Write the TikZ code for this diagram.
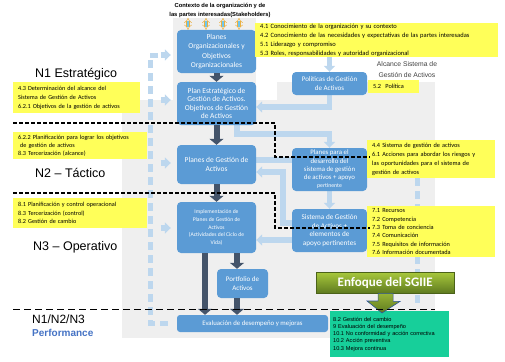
\documentclass[tikz,border=0pt]{standalone}
\usepackage{fontspec}
\setmainfont{Carlito}
\newfontfamily\arialf[Ligatures=TeX]{Liberation Sans}
\usetikzlibrary{arrows.meta}
\newcommand{\myfs}[2]{\fontsize{#1}{#2}\selectfont}
\definecolor{boxblue}{HTML}{5B9BD5}
\definecolor{lbcol}{HTML}{BDD7EE}
\definecolor{darrcol}{HTML}{44546A}
\definecolor{yel}{HTML}{FFFF59}
\definecolor{bggray}{HTML}{EFEFEF}
\definecolor{greenbox}{HTML}{17CF9A}
\definecolor{perfblue}{HTML}{4472C4}
\definecolor{olivetop}{HTML}{A8C83C}
\definecolor{olivebot}{HTML}{5E7A1F}
\definecolor{olivearr}{HTML}{7A9A24}
\definecolor{arrowblue}{HTML}{2F5597}
\definecolor{ctxorange}{HTML}{EBB040}
\definecolor{ctxblue}{HTML}{6DC6EF}
\pgfdeclarelayer{bg}
\pgfdeclarelayer{conn}
\pgfsetlayers{bg,conn,main}
\tikzset{
  bluebox/.style={fill=boxblue, rounded corners=4pt, text=white, align=center, inner sep=1pt, font=\myfs{7.5}{9.5}},
  ybox/.style={fill=yel, anchor=north west, inner xsep=5pt, inner ysep=0pt, align=left, font=\myfs{6.5}{9}},
  darr/.style={draw=darrcol, line width=6pt, -{Triangle[width=14pt,length=6pt]}},
  lbarr/.style={draw=lbcol, line width=5.5pt, -{Triangle[width=11pt,length=6pt]}},
  lbline/.style={draw=lbcol, line width=5.5pt},
  lbdash/.style={draw=lbcol, line width=5pt, dash pattern=on 8pt off 5pt},
  bkdash/.style={draw=black, line width=1.3pt, dash pattern=on 4pt off 2pt},
  bkdash2/.style={draw=black, line width=1pt, dash pattern=on 7pt off 4pt},
  ctxarr/.style={draw=ctxorange, double=ctxblue, double distance=2.2pt, line width=0.5pt, {Implies}-{Implies}},
  lvl/.style={anchor=west, inner sep=0pt, font=\arialf\myfs{12.5}{14}},
}
\begin{document}
\begin{tikzpicture}[x=1pt,y=-1pt]
\useasboundingbox (0,0) rectangle (505,361);
\begin{pgfonlayer}{bg}
\fill[bggray] (122,100) rectangle (435,338);
\fill[bggray] (173,18) rectangle (256,100);
\fill[bggray] (277,82) rectangle (435,100);
\end{pgfonlayer}

% blue boxes
\node[bluebox, minimum width=79pt, minimum height=43pt] (po) at (216.5,51.5) {Planes\\Organizacionales y\\Objetivos\\Organizacionales};
\node[bluebox, minimum width=79pt, minimum height=43pt, font=\myfs{7.5}{8.6}] (pe) at (216.5,103.5) {Plan Estratégico de\\Gestión de Activos.\\Objetivos de Gestión\\de Activos};
\node[bluebox, minimum width=79pt, minimum height=39pt] (pg) at (216.5,164.5) {Planes de Gestión de\\Activos};
\node[bluebox, minimum width=79pt, minimum height=51pt, font=\myfs{5.6}{7.6}] (im) at (216.5,227.5) {Implementación de\\Planes de Gestión de\\Activos\\(Actividades del Ciclo de\\Vida)};
\node[bluebox, minimum width=51pt, minimum height=29pt, font=\myfs{7}{9}] (pf) at (242.5,283.5) {Portfolio de\\Activos};
\node[bluebox, minimum width=151pt, minimum height=17pt, rounded corners=3pt, font=\myfs{6.8}{8}] (ev) at (252.5,323.5) {Evaluación de desempeño y mejoras};
\node[bluebox, minimum width=75pt, minimum height=23pt, font=\myfs{7}{9}] (pol) at (329.5,83.5) {Políticas de Gestión\\de Activos};
\node[bluebox, minimum width=75pt, minimum height=43pt, font=\myfs{6.8}{8.3}] (pd) at (329.5,169.5) {Planes para el\\desarrollo del\\sistema de gestión\\de activos + apoyo\\{\myfs{5.8}{8.3}pertinente}};
\node[bluebox, minimum width=75pt, minimum height=43pt, font=\myfs{7.2}{8.5}] (sg) at (329.5,230.5) {Sistema de Gestión\\de Activos +\\elementos de\\apoyo pertinentes};

% yellow boxes
\node[ybox, minimum width=243pt, minimum height=34pt, text width=233pt] (y1) at (255,23) {4.1 Conocimiento de la organización y su contexto\\4.2 Conocimiento de las necesidades y expectativas de las partes interesadas\\5.1 Liderazgo y compromiso\\5.3 Roles, responsabilidades y autoridad organizacional};
\node[ybox, minimum width=51pt, minimum height=13pt, text width=41pt, font=\myfs{6.3}{8}] (y2) at (368,80) {5.2\ \ Política};
\node[ybox, minimum width=127pt, minimum height=31pt, text width=117pt, font=\myfs{6.2}{8.8}] (y3) at (13,82) {4.3 Determinación del alcance del\\Sistema de Gestión de Activos\\6.2.1 Objetivos de la gestión de activos};
\node[ybox, minimum width=134pt, minimum height=27pt, text width=124pt, font=\myfs{6.2}{8.3}] (y4) at (13,132) {6.2.2 Planificación para lograr los objetivos\\\hspace*{2pt}de gestión de activos\\8.3 Tercerización (alcance)};
\node[ybox, minimum width=134pt, minimum height=30pt, text width=124pt, font=\myfs{6.2}{8.5}] (y5) at (13,198) {8.1 Planificación y control operacional\\8.3 Tercerización (control)\\8.2 Gestión de cambio};
\node[ybox, minimum width=128pt, minimum height=38pt, text width=118pt, font=\myfs{6.3}{8.8}] (y6) at (367,140) {4.4 Sistema de gestión de activos\\6.1 Acciones para abordar los riesgos y\\las oportunidades para el sistema de\\gestión de activos};
\node[ybox, minimum width=128pt, minimum height=51pt, text width=118pt, font=\myfs{6.3}{8.3}] (y7) at (367,206) {7.1 Recursos\\7.2 Competencia\\7.3 Toma de conciencia\\7.4 Comunicación\\7.5 Requisitos de información\\7.6 Información documentada};

% green box and Enfoque
\node[fill=greenbox, anchor=north west, minimum width=119pt, minimum height=46pt, text width=113pt, inner xsep=3pt, inner ysep=0pt, align=left, font=\arialf\myfs{5.6}{7.2}] (gb) at (330,311) {8.2 Gestión del cambio\\9 Evaluación del desempeño\\10.1 No conformidad y acción correctiva\\10.2 Acción preventiva\\10.3 Mejora continua};
\node[top color=olivetop, bottom color=olivebot, draw=olivebot!80!black, line width=0.3pt, anchor=north west, minimum width=138pt, minimum height=21pt, inner sep=0pt, text=white, font=\bfseries\myfs{13}{15}] (enf) at (316,272) {Enfoque del SGIIE};
\draw[top color=olivetop!90!black, bottom color=olivebot, draw=arrowblue, line width=0.6pt] ([xshift=-7pt]enf.south) -- ([xshift=8pt]enf.south) -- ++(0,8) -- ++(7,0) -- (382,313) -- (367,301) -- ([xshift=-7pt]enf.south |- 0,301) -- cycle;

% light blue connectors
\begin{pgfonlayer}{conn}
\draw[lbarr] (y1.south -| pol.north) -- (pol.north);
\draw[lbarr] (pol.south) |- ([yshift=-3.5pt]pe.east);
\draw[lbarr] ([xshift=20.5pt]pe.south) -- ++(0,9) -| (pd.north);
\draw[lbline] ([yshift=4.5pt]pg.east) -- ([yshift=4.5pt]pg.east -| pd.west);
\draw[lbarr] ([yshift=7.5pt]sg.west) -- ++(-9,0) |- ([yshift=-7.5pt]pg.east);
\draw[lbarr] ([yshift=-9.5pt]sg.west) -- ([yshift=-9.5pt]sg.west -| im.east);
\draw[lbarr] (pd.south) -- (sg.north);
\coordinate (lt) at (150,55);
\coordinate (lb) at (150,323);
\draw[lbdash] (158,55) -- (lt) -- (lb) -- ([xshift=-4pt]ev.west |- lb);
\draw[lbarr] ([xshift=-16pt,yshift=-3.5pt]po.west) -- ([xshift=-6pt,yshift=-3.5pt]po.west);
\draw[lbarr] ([xshift=-16pt,yshift=3.5pt]pe.west) -- ([xshift=-6pt,yshift=3.5pt]pe.west);
\draw[lbarr] ([xshift=-16pt,yshift=1.5pt]pg.west) -- ([xshift=-6pt,yshift=1.5pt]pg.west);
\draw[lbarr] ([xshift=-16pt,yshift=-0.5pt]im.west) -- ([xshift=-6pt,yshift=-0.5pt]im.west);
\coordinate (rb) at (417,305);
\draw[lbdash] (y6.south -| rb) -- (rb);
\end{pgfonlayer}

% dark arrows
\coordinate (ax) at (237,0);
\coordinate (bx) at (205,0);
\draw[darr] (po.south) -- (pe.north);
\draw[darr] (pe.south) -- (pg.north);
\draw[darr] (pg.south) -- (im.north);
\draw[darr] (im.south -| bx) -- (ev.north -| bx);
\draw[darr] (im.south -| ax) -- (pf.north -| ax);
\draw[darr] (pf.south -| ax) -- (ev.north -| ax);

% context
\node[align=center, inner sep=0pt, font=\arialf\bfseries\myfs{5.8}{8.5}] (ctx) at (220,10.5) {Contexto de la organización y de\\las partes interesadas(Stakeholders)};
\foreach \dx in {-28.5,-10.5,6.5,22.5}
  \draw[ctxarr] ([xshift=\dx pt]po.north) -- ([xshift=\dx pt, yshift=12pt]po.north);

% dashed level boundaries
\draw[bkdash] (13,123) -- (275,123) -- (275,157) -- (370,157);
\draw[bkdash] (13,193) -- (275,193) -- (275,228) -- (370,228);
\draw[bkdash2] (13,309) -- (435,309);

% labels
\node[lvl] (n1) at (35,74) {N1 Estratégico};
\node[lvl] (n2) at (35,173) {N2 – Táctico};
\node[lvl] (n3) at (33,247) {N3 – Operativo};
\node[lvl, font=\arialf\myfs{12}{14}] (n123) at (32,319) {N1/N2/N3};
\node[lvl, font=\arialf\bfseries\myfs{10}{12}, text=perfblue] (perf) at (32,333) {Performance};
\node[align=center, inner sep=0pt, text=black!75, font=\arialf\myfs{6.8}{11}] (alc) at (407,70) {Alcance Sistema de\\Gestión de Activos};
\end{tikzpicture}
\end{document}
